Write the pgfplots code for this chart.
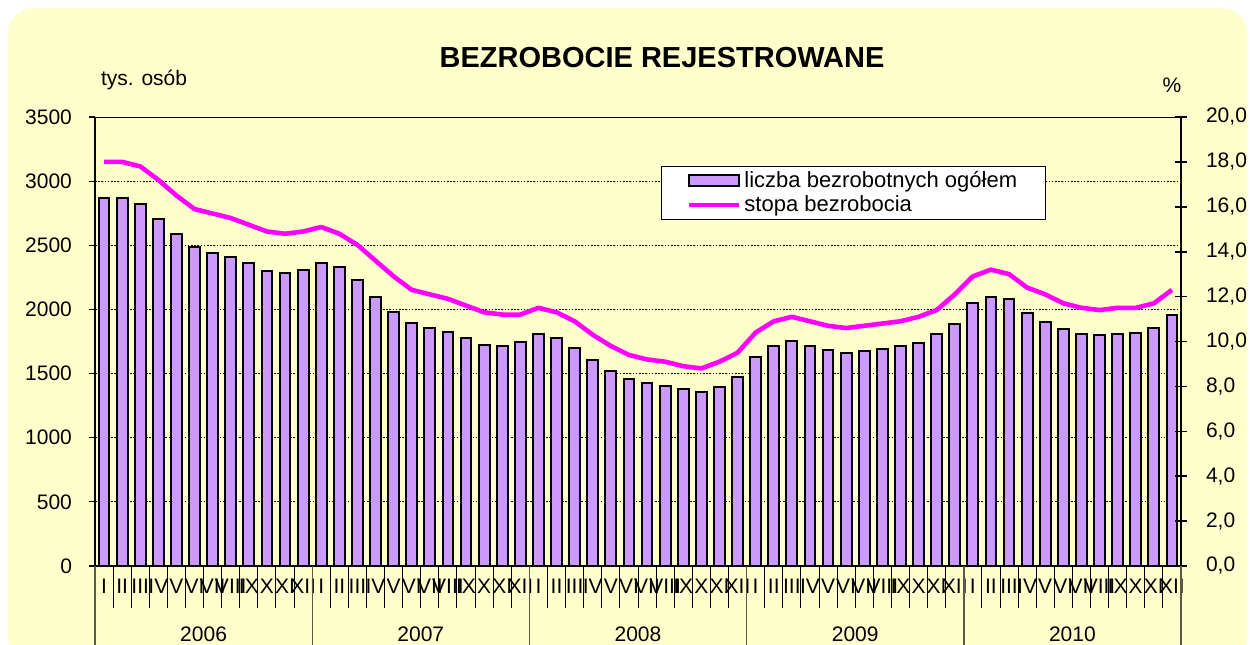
\documentclass[border=0pt]{standalone}
\usepackage{fontspec}
\setmainfont{Liberation Sans}
\usepackage{pgfplots}
\pgfplotsset{compat=1.18}
\usepackage{pgfplotstable}

\definecolor{bg}{HTML}{FFFFCC}
\definecolor{barc}{HTML}{CC99FF}
\definecolor{linec}{HTML}{FF00FF}

\pgfplotsset{
  mybarlegend/.style={legend image code/.code={\draw[##1] (0pt,-2.5pt) rectangle (25pt,3pt);}},
  mylinelegend/.style={legend image code/.code={\draw[##1] (0pt,0pt) -- (25pt,0pt);}},
}

\pgfplotstableread{
x y
0 2866
1 2866
2 2822
3 2704
4 2585
5 2489
6 2442
7 2411
8 2360
9 2300
10 2286
11 2309
12 2364
13 2328
14 2229
15 2099
16 1982
17 1897
18 1858
19 1822
20 1775
21 1720
22 1718
23 1746
24 1810
25 1780
26 1702
27 1606
28 1523
29 1455
30 1424
31 1405
32 1377
33 1354
34 1398
35 1472
36 1632
37 1715
38 1756
39 1715
40 1684
41 1658
42 1678
43 1689
44 1715
45 1741
46 1808
47 1886
48 2048
49 2099
50 2079
51 1975
52 1905
53 1845
54 1808
55 1798
56 1808
57 1819
58 1858
59 1954
}\bars

\pgfplotstableread{
x r
0 18.0
1 18.0
2 17.8
3 17.2
4 16.5
5 15.9
6 15.7
7 15.5
8 15.2
9 14.9
10 14.8
11 14.9
12 15.1
13 14.8
14 14.3
15 13.6
16 12.9
17 12.3
18 12.1
19 11.9
20 11.6
21 11.3
22 11.2
23 11.2
24 11.5
25 11.3
26 10.9
27 10.3
28 9.8
29 9.4
30 9.2
31 9.1
32 8.9
33 8.8
34 9.1
35 9.5
36 10.4
37 10.9
38 11.1
39 10.9
40 10.7
41 10.6
42 10.7
43 10.8
44 10.9
45 11.1
46 11.4
47 12.1
48 12.9
49 13.2
50 13.0
51 12.4
52 12.1
53 11.7
54 11.5
55 11.4
56 11.5
57 11.5
58 11.7
59 12.3
}\rate

\begin{document}
\begin{tikzpicture}[x=1pt,y=1pt]
\useasboundingbox (0,0) rectangle (625,322);
\fill[bg, rounded corners=13pt] (4,-10) rectangle (623.5,318);
\node[font=\fontsize{14.5}{16}\selectfont\bfseries] at (331,293) {BEZROBOCIE REJESTROWANE};
\node[anchor=west, font=\fontsize{10.5}{12}\selectfont] at (47,282) {tys. osób};
\node[font=\fontsize{10.5}{12}\selectfont] at (586,279.5) {\%};

\begin{axis}[
  at={(47.5pt,39pt)}, anchor=south west, scale only axis,
  width=543pt, height=224.5pt,
  xmin=-0.5, xmax=59.5, ymin=0, ymax=3500,
  axis y line*=left, axis x line*=bottom,
  axis line style={black, line width=0.6pt},
  ytick={0,500,...,3500},
  ymajorgrids,
  grid style={black, line width=0.4pt, dash pattern=on 0.8pt off 0.8pt},
  ytick align=outside,
  major tick length=3pt,
  ytick style={black, line width=0.6pt},
  xtick={0,...,59},
  xticklabels={I,II,III,IV,V,VI,VII,VIII,IX,X,XI,XII,
               I,II,III,IV,V,VI,VII,VIII,IX,X,XI,XII,
               I,II,III,IV,V,VI,VII,VIII,IX,X,XI,XII,
               I,II,III,IV,V,VI,VII,VIII,IX,X,XI,XII,
               I,II,III,IV,V,VI,VII,VIII,IX,X,XI,XII},
  xtick style={draw=none},
  xticklabel style={yshift=-3pt},
  extra x ticks={-0.5,0.5,...,59.5},
  extra x tick labels={},
  extra x tick style={major tick length=21pt, tick align=outside, xtick style={draw=black, line width=0.5pt}},
  ticklabel style={font=\fontsize{10.5}{12}\selectfont},
  yticklabel style={/pgf/number format/1000 sep={}, xshift=-5pt},
  /pgf/number format/assume math mode=true,
  clip=false,
]
\draw[black, line width=0.5pt] (rel axis cs:0,1) -- (rel axis cs:1,1);
\addplot[ybar, bar width=0.6, fill=barc, draw=black, line width=1pt] table[x=x,y=y] {\bars};
\end{axis}

\begin{axis}[
  at={(47.5pt,39pt)}, anchor=south west, scale only axis,
  width=543pt, height=224.5pt,
  xmin=-0.5, xmax=59.5, ymin=0, ymax=20,
  axis y line*=right, axis x line*=bottom,
  axis line style={black, line width=0.6pt},
  ytick={0,2,...,20},
  ytick align=center,
  major tick length=6pt,
  ytick style={black, line width=0.8pt},
  yticklabel style={/pgf/number format/fixed, /pgf/number format/fixed zerofill, /pgf/number format/precision=1, /pgf/number format/use comma, xshift=6pt},
  xtick={5.5,17.5,29.5,41.5,53.5},
  xticklabels={2006,2007,2008,2009,2010},
  xtick style={draw=none},
  xticklabel style={yshift=-27pt},
  extra x ticks={-0.5,11.5,23.5,35.5,47.5,59.5},
  extra x tick labels={},
  extra x tick style={major tick length=40pt, tick align=outside, xtick style={draw=black!65!bg, line width=0.7pt}},
  ticklabel style={font=\fontsize{10.5}{12}\selectfont},
  /pgf/number format/assume math mode=true,
  legend style={at={(0.5215,0.891)}, anchor=north west, draw=black, line width=0.5pt, fill=white,
    font=\fontsize{11}{12.5}\selectfont, inner xsep=12.5pt, inner ysep=0.5pt, row sep=-1.5pt,
    nodes={inner xsep=1.5pt}},
  legend cell align=left,
]
\addlegendimage{fill=barc, draw=black, line width=1pt, mybarlegend}
\addlegendentry{liczba bezrobotnych ogółem}
\addplot[linec, line width=2.3pt, line join=round, mark=none, mylinelegend] table[x=x,y=r] {\rate};
\addlegendentry{stopa bezrobocia}
\end{axis}
\end{tikzpicture}
\end{document}
